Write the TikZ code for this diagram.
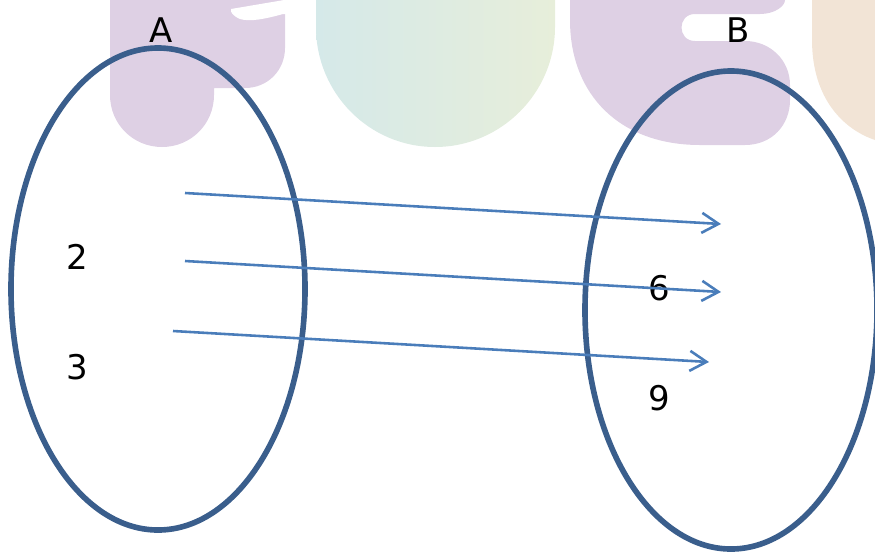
\documentclass[tikz,border=0pt]{standalone}
\usepackage{fontspec}
\setmainfont{DejaVu Sans}
\usetikzlibrary{arrows.meta,shapes.geometric}

\definecolor{setblue}{RGB}{58,94,140}
\definecolor{mapblue}{RGB}{74,125,186}
\definecolor{bgpurple}{RGB}{222,208,228}
\definecolor{bgteal}{RGB}{213,233,233}
\definecolor{bggreen}{RGB}{231,238,218}
\definecolor{bgpeach}{RGB}{242,228,214}

\tikzset{
    setoval/.style={draw=setblue, line width=4.8pt, ellipse, inner sep=0pt},
    maparrow/.style={draw=mapblue, line width=2.2pt, -{Straight Barb[length=5mm, width=6mm, line width=2.2pt]}},
    elem/.style={font=\fontsize{29}{32}\selectfont, inner sep=0pt}
}

\begin{document}
\begin{tikzpicture}[x=0.03cm, y=-0.03cm]
    \useasboundingbox (0,0) rectangle (875,551);

    % Background blobs
    \fill[bgpurple] (110,0) -- (110,95) .. controls (110,124) and (133,147) .. (162,147)
        .. controls (191,147) and (214,124) .. (214,95) -- (214,88) -- (245,88)
        .. controls (268,88) and (285,70) .. (285,48) -- (285,0) -- cycle;
    \fill[white] (231,9) -- (290,-1) -- (290,14) -- (283,14)
        .. controls (265,19) and (250,22) .. (240,19) .. controls (233,16) and (230,12) .. cycle;
    \shade[left color=bgteal, right color=bggreen] (316,0) -- (316,27)
        .. controls (316,93) and (369,147) .. (435,147)
        .. controls (501,147) and (555,93) .. (555,27) -- (555,0) -- cycle;
    \fill[bgpurple] (570,0) -- (570,20) .. controls (570,95) and (620,145) .. (700,145)
        -- (745,145) .. controls (772,145) and (790,125) .. (790,100) -- (790,85)
        .. controls (790,60) and (770,41) .. (745,41) -- (695,41)
        .. controls (677,41) and (677,14) .. (695,14) -- (760,14)
        .. controls (775,14) and (785,6) .. (785,0) -- cycle;
    \fill[bgpeach] (812,0) -- (812,40) .. controls (812,100) and (845,130) .. (875,140) -- (875,0) -- cycle;

    % Sets A and B
    \node[setoval, minimum width=8.82cm, minimum height=14.46cm] (setA) at (158,289) {};
    \node[setoval, minimum width=8.76cm, minimum height=14.34cm] (setB) at (731,310) {};
    \node[elem] (labA) at (161,30) {A};
    \node[elem] (labB) at (738,30) {B};

    % Elements
    \node[elem] (a2) at (77,257) {2};
    \node[elem] (a3) at (77,367) {3};
    \node[elem] (b6) at (659,288) {6};
    \node[elem] (b9) at (659,398) {9};

    % Mapping arrows
    \coordinate (s1) at (185,193); \coordinate (t1) at (721,224);
    \coordinate (s2) at (185,261); \coordinate (t2) at (721,292);
    \coordinate (s3) at (173,331); \coordinate (t3) at (709,362);
    \draw[maparrow] (s1) -- (t1);
    \draw[maparrow] (s2) -- (t2);
    \draw[maparrow] (s3) -- (t3);
\end{tikzpicture}
\end{document}
